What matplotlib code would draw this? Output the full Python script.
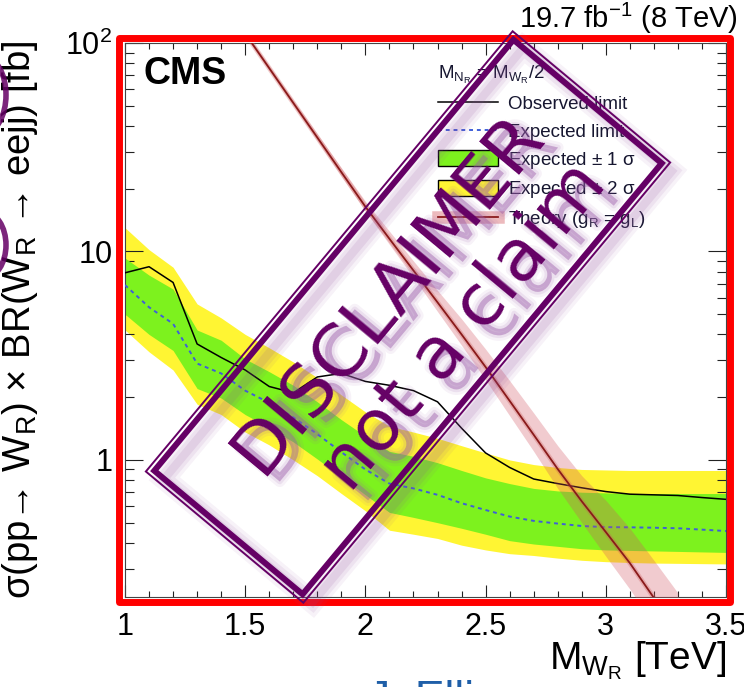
import numpy as np
import matplotlib
matplotlib.use("Agg")
import matplotlib.pyplot as plt
from matplotlib.patches import Rectangle, Patch, Ellipse
from matplotlib.lines import Line2D
from matplotlib.legend_handler import HandlerTuple
import matplotlib.patheffects as pe
from matplotlib.ticker import MultipleLocator, LogLocator, NullFormatter, FixedLocator, FixedFormatter

plt.rcParams['font.family'] = ['Liberation Sans', 'DejaVu Sans']
plt.rcParams['mathtext.fontset'] = 'custom'
plt.rcParams['mathtext.rm'] = 'Liberation Sans'
plt.rcParams['mathtext.it'] = 'Liberation Sans:italic'
plt.rcParams['mathtext.bf'] = 'Liberation Sans:bold'
plt.rcParams['mathtext.default'] = 'regular'

# ---------------- data ----------------
mass = [1.0, 1.1, 1.2, 1.3, 1.4, 1.5, 1.6, 1.7, 1.8, 1.9, 2.0, 2.1, 2.2,
        2.3, 2.4, 2.5, 2.6, 2.7, 2.8, 2.9, 3.0, 3.1, 3.2, 3.3, 3.4, 3.5]
observed = [7.9, 8.45, 7.1, 3.6, 3.1, 2.7, 2.25, 2.1, 2.5, 2.6, 2.38, 2.28, 2.15,
            1.9, 1.42, 1.08, 0.92, 0.81, 0.77, 0.735, 0.705, 0.685, 0.68, 0.675, 0.66, 0.647]
expected = [6.9, 5.4, 4.5, 2.9, 2.6, 2.15, 1.88, 1.6, 1.33, 1.09, 0.9, 0.77, 0.73,
            0.68, 0.62, 0.575, 0.535, 0.51, 0.495, 0.482, 0.476, 0.475, 0.473, 0.47, 0.463, 0.456]
exp_1sig_lo = [5.0, 4.0, 3.35, 2.2, 1.98, 1.65, 1.43, 1.22, 1.01, 0.83, 0.68, 0.56, 0.53,
               0.50, 0.47, 0.44, 0.41, 0.395, 0.385, 0.375, 0.37, 0.368, 0.366, 0.364, 0.362, 0.36]
exp_1sig_hi = [9.3, 7.7, 6.6, 4.2, 3.75, 3.05, 2.65, 2.28, 1.9, 1.56, 1.3, 1.1, 1.04,
               0.97, 0.89, 0.82, 0.77, 0.73, 0.71, 0.70, 0.695, 0.69, 0.69, 0.69, 0.69, 0.69]
exp_2sig_lo = [4.2, 3.3, 2.7, 1.85, 1.65, 1.36, 1.18, 1.0, 0.84, 0.69, 0.57, 0.46, 0.44,
               0.42, 0.39, 0.37, 0.355, 0.348, 0.338, 0.33, 0.325, 0.322, 0.32, 0.319, 0.318, 0.317]
exp_2sig_hi = [13.0, 10.2, 8.4, 5.6, 4.8, 4.0, 3.45, 2.95, 2.48, 2.05, 1.7, 1.45, 1.36,
               1.27, 1.17, 1.08, 1.0, 0.95, 0.92, 0.90, 0.895, 0.89, 0.89, 0.89, 0.89, 0.89]

theory_mass = [1.5, 1.6, 1.7, 1.8, 1.9, 2.0, 2.1, 2.2, 2.3, 2.4,
               2.5, 2.6, 2.7, 2.8, 2.9, 3.0, 3.1, 3.2, 3.3]
theory_xsec = [111, 75.7, 51.6, 35.2, 24.0, 16.4, 11.5, 8.1, 5.7, 4.0,
               2.79, 1.92, 1.32, 0.904, 0.633, 0.451, 0.32, 0.218, 0.148]
theory_lo = [108, 73.5, 50.0, 34.0, 23.0, 15.6, 10.8, 7.5, 5.15, 3.55,
             2.42, 1.63, 1.1, 0.73, 0.5, 0.345, 0.24, 0.162, 0.107]
theory_hi = [114, 78, 53.2, 36.6, 25.2, 17.4, 12.5, 9.0, 6.5, 4.75,
             3.4, 2.4, 1.68, 1.17, 0.84, 0.64, 0.47, 0.33, 0.23]

x_ticks = [1.0, 1.5, 2.0, 2.5, 3.0, 3.5]
x_tick_labels = ['1', '1.5', '2', '2.5', '3', '3.5']
y_ticks = [1, 10, 100]
y_tick_labels = ['1', '10', r'$10^{2}$']

legend_labels = ['Observed limit', 'Expected limit', r'Expected $\pm$ 1 $\sigma$',
                 r'Expected $\pm$ 2 $\sigma$', r'Theory (g$_{R}$ = g$_{L}$)']
legend_title = r'M$_{N_{R}}$ = M$_{W_{R}}$/2'

# ---------------- styles ----------------
GREEN = '#7df21e'
YELLOW = '#fff533'
BLUE = '#3f5fd8'
THEORY = '#8a1a1a'
PURPLE = '#650065'

W, H = 744, 687
fig = plt.figure(figsize=(W / 100, H / 100), dpi=100)
fig.patch.set_facecolor('white')

ax = fig.add_axes([125 / W, 1 - 597 / H, (726 - 125) / W, (597 - 43) / H])
ax.set_yscale('log')
ax.set_xlim(1.0, 3.5)
ax.set_ylim(0.22, 100)

ax.fill_between(mass, exp_2sig_lo, exp_2sig_hi, color=YELLOW, lw=0, zorder=1)
ax.fill_between(mass, exp_1sig_lo, exp_1sig_hi, color=GREEN, lw=0, zorder=2)
ax.plot(mass, expected, color=BLUE, ls=(0, (2, 2)), lw=1.4, zorder=3)
ax.plot(mass, observed, color='black', lw=1.1, zorder=4)
ax.fill_between(theory_mass, theory_lo, theory_hi, color=(0.82, 0.33, 0.38), alpha=0.3,
                lw=0, zorder=5)
ax.plot(theory_mass, theory_xsec, color=(0.8, 0.35, 0.35), lw=3.5, alpha=0.3, zorder=6)
ax.plot(theory_mass, theory_xsec, color=THEORY, lw=1.3, zorder=7)

ax.xaxis.set_major_locator(FixedLocator(x_ticks))
ax.xaxis.set_major_formatter(FixedFormatter(x_tick_labels))
ax.xaxis.set_minor_locator(MultipleLocator(0.1))
ax.yaxis.set_major_locator(FixedLocator(y_ticks))
ax.yaxis.set_major_formatter(FixedFormatter(y_tick_labels))
ax.yaxis.set_minor_locator(LogLocator(base=10, subs=np.arange(2, 10)))
ax.yaxis.set_minor_formatter(NullFormatter())

ax.tick_params(which='both', direction='in', top=True, right=True, width=0.8,
               color='#222222', labelsize=22)
ax.tick_params(axis='y', which='major', length=13, pad=9)
ax.tick_params(axis='y', which='minor', length=6.5)
ax.tick_params(axis='x', which='major', length=8.6, pad=11)
ax.tick_params(axis='x', which='minor', length=4.3)
for s in ax.spines.values():
    s.set_linewidth(0.8)
    s.set_color('#444444')

ax.set_ylabel(r'σ(pp→ W$_{R}$) × BR(W$_{R}$ → eejj) [fb]', fontsize=27.5)
ax.yaxis.set_label_coords(-0.142, 0.5)
ax.set_xlabel(r'M$_{W_{R}}$ [TeV]', fontsize=28, loc='right')
ax.xaxis.set_label_coords(1.0, -0.077)

ax.text(0.03, 0.976, 'CMS', transform=ax.transAxes, fontsize=27, fontweight='bold',
        ha='left', va='top', zorder=8)

handles = [
    Line2D([], [], color='black', lw=1.1),
    Line2D([], [], color=BLUE, ls=(0, (2, 2)), lw=1.4),
    Patch(facecolor=GREEN, edgecolor='black', lw=1.0),
    Patch(facecolor=YELLOW, edgecolor='black', lw=1.0),
    (Line2D([], [], color=(0.88, 0.55, 0.57), lw=9, alpha=0.6),
     Line2D([], [], color=THEORY, lw=1.3)),
]
leg = ax.legend(handles, legend_labels, title=legend_title, loc='upper left',
                bbox_to_anchor=(0.521, 0.962), frameon=False, fontsize=13.5,
                title_fontsize=13.5, alignment='left', borderpad=0, borderaxespad=0,
                handlelength=3.2, handletextpad=0.55, labelspacing=0.47,
                handleheight=0.95, handler_map={tuple: HandlerTuple(ndivide=1)})
for t in leg.get_texts():
    t.set_color('#161630')
leg.get_title().set_color('#161630')
leg.set_zorder(9)

fig.text(738 / W, 1 - 28 / H, r'19.7 fb$^{-1}$ (8 TeV)', ha='right', va='baseline',
         fontsize=21)
fig.text(368 / W, 1 - 680 / H, 'J. Ellis', ha='left', va='top', fontsize=32,
         color='#1f5fa8')

# ---------------- overlay: red frame and stamp ----------------
ov = fig.add_axes([0, 0, 1, 1], zorder=10)
ov.set_xlim(0, W)
ov.set_ylim(0, H)
ov.axis('off')
ov.patch.set_alpha(0)

ov.add_patch(Rectangle((118.5, H - 602), 729.5 - 118.5, 602 - 38, fill=False,
                       ec='#ff0000', lw=5.0, joinstyle='round'))

# partial shapes cut at the left edge
ov.add_patch(Ellipse((-16, H - 95), 44, 76, fill=False, ec=PURPLE, lw=4, alpha=0.85))
ov.add_patch(Ellipse((-16, H - 245), 44, 66, fill=False, ec=PURPLE, lw=4, alpha=0.85))

cx, cy = 408, H - 317
ang = 50.2
L, S = 573, 205
sdx, sdy = 10, -8
for lw, a in [(16, 0.07), (11, 0.09), (6, 0.12)]:
    ov.add_patch(Rectangle((cx + sdx - (L - 12) / 2, cy + sdy - (S - 12) / 2), L - 12, S - 12,
                           angle=ang, rotation_point='center', fill=False,
                           ec='#8e4a9c', lw=lw, alpha=a))
ov.add_patch(Rectangle((cx - L / 2, cy - S / 2), L, S, angle=ang, rotation_point='center',
                       fill=False, ec=PURPLE, lw=1.4))
ov.add_patch(Rectangle((cx - (L - 12) / 2, cy - (S - 12) / 2), L - 12, S - 12, angle=ang,
                       rotation_point='center', fill=False, ec=PURPLE, lw=4.3))

th = np.deg2rad(ang)
u = np.array([np.cos(th), np.sin(th)])
n = np.array([np.sin(th), -np.cos(th)])
c = np.array([cx, cy])
p1 = c - 11 * n + 6 * u
p2 = c + 69 * n + 28 * u
tdx, tdy = 14, -11
stamp_kw = dict(rotation=ang, rotation_mode='anchor', ha='center', va='baseline',
                fontsize=52, family=['DejaVu Sans'])
for p, txt in [(p1, 'DISCLAIMER'), (p2, 'not a claim')]:
    ov.text(p[0] + tdx, p[1] + tdy, txt, color='#9a5aa8', alpha=0.3,
            path_effects=[pe.Stroke(linewidth=8, foreground='#9a5aa8', alpha=0.08),
                          pe.Stroke(linewidth=4, foreground='#9a5aa8', alpha=0.12),
                          pe.Normal()], **stamp_kw)
    ov.text(p[0], p[1], txt, color=PURPLE, **stamp_kw)

fig.savefig('out.png', dpi=100, facecolor='white')
